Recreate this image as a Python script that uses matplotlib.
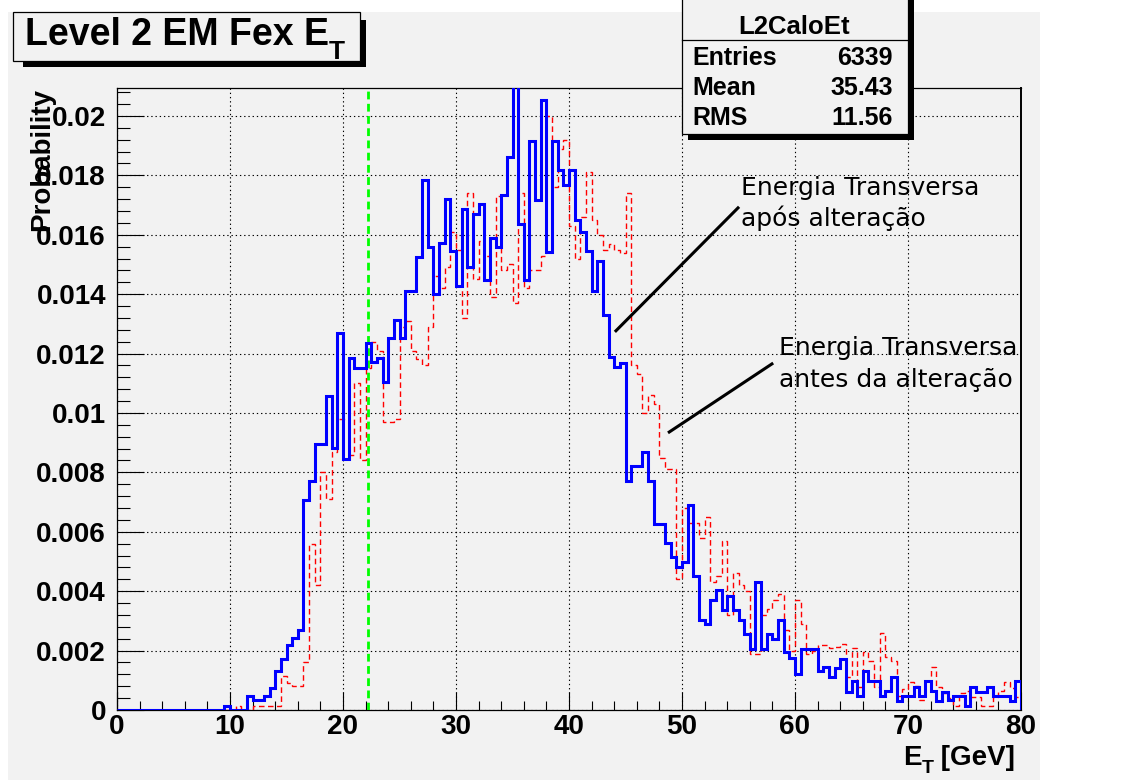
import numpy as np
import matplotlib
matplotlib.use("Agg")
import matplotlib.pyplot as plt
from matplotlib.patches import Rectangle
from matplotlib.lines import Line2D

plt.rcParams["font.family"] = ["Liberation Sans", "DejaVu Sans"]

# histogram binning: 160 bins of 0.5 GeV
bin_edges = np.arange(0, 80.5, 0.5)

# after change (blue, solid)
after_vals = [
    0, 0, 0, 0, 0, 0, 0, 0, 0, 0,
    0, 0, 0, 0, 0, 0, 0, 0, 0, 0.00015,
    0, 0, 0, 0.00046, 0.00032, 0.00032, 0.00046, 0.00075, 0.0013, 0.00172,
    0.0022, 0.00242, 0.0027, 0.00706, 0.0077, 0.00897, 0.00897, 0.01058, 0.00883, 0.01268,
    0.00846, 0.01186, 0.01152, 0.01152, 0.01237, 0.0117, 0.01186, 0.01103, 0.01252, 0.01314,
    0.01252, 0.01411, 0.01411, 0.01524, 0.01783, 0.01559, 0.014, 0.01572, 0.0172, 0.01545,
    0.01426, 0.01687, 0.0149, 0.01671, 0.01705, 0.01446, 0.01589, 0.0156, 0.01733, 0.01862,
    0.0215, 0.01637, 0.01446, 0.01914, 0.01718, 0.02055, 0.01543, 0.01914, 0.01818, 0.01767,
    0.01818, 0.0165, 0.01608, 0.01545, 0.01412, 0.0151, 0.0133, 0.01189, 0.01155, 0.01169,
    0.0077, 0.00821, 0.00821, 0.0087, 0.00772, 0.00626, 0.00626, 0.00562, 0.00515, 0.0048,
    0.00499, 0.0069, 0.00452, 0.00304, 0.0029, 0.00369, 0.00403, 0.00337, 0.00384, 0.00338,
    0.00303, 0.00255, 0.00206, 0.00432, 0.00206, 0.00255, 0.0024, 0.00304, 0.00194, 0.00175,
    0.0012, 0.00207, 0.00207, 0.00207, 0.0013, 0.00144, 0.0011, 0.00142, 0.00172, 0.00062,
    0.00097, 0.00046, 0.0013, 0.00097, 0.00097, 0.00046, 0.00063, 0.0011, 0.00031, 0.00046,
    0.00048, 0.00076, 0.00046, 0.00097, 0.00063, 0.00031, 0.00062, 0.00034, 0.00046, 0.00046,
    0.00012, 0.00076, 0.00062, 0.00062, 0.00076, 0.00046, 0.00046, 0.00046, 0.00031, 0.00097,
]

# before change (red, dashed)
before_vals = [
    0, 0, 0, 0, 0, 0, 0, 0, 0, 0,
    0, 0, 0, 0, 0, 0, 0, 0, 0, 0,
    0, 0.00015, 0, 0, 0.00015, 0.00015, 0.00015, 0.00015, 0.00015, 0.00114,
    0.0009, 0.0008, 0.0008, 0.0016, 0.0056, 0.0042, 0.0080, 0.0071, 0.0087, 0.0098,
    0.0098, 0.0086, 0.0110, 0.0084, 0.0115, 0.0124, 0.0121, 0.0097, 0.0097, 0.0098,
    0.0129, 0.0131, 0.0121, 0.0118, 0.0116, 0.0129, 0.0146, 0.0142, 0.0149, 0.0161,
    0.0155, 0.0132, 0.0174, 0.0145, 0.0158, 0.0153, 0.0139, 0.0173, 0.0148, 0.0150,
    0.0137, 0.0174, 0.0142, 0.0148, 0.0148, 0.0153, 0.0200, 0.0176, 0.0189, 0.0192,
    0.0163, 0.0152, 0.0166, 0.0181, 0.0165, 0.0160, 0.0155, 0.0157, 0.0155, 0.0154,
    0.0174, 0.0116, 0.0113, 0.0100, 0.0106, 0.0103, 0.0085, 0.0081, 0.0081, 0.0044,
    0.0068, 0.0063, 0.0063, 0.0058, 0.0065, 0.0043, 0.0045, 0.0057, 0.0032, 0.0046,
    0.0042, 0.0040, 0.0019, 0.0019, 0.0032, 0.0034, 0.0037, 0.0039, 0.0027, 0.0020,
    0.0037, 0.0029, 0.0019, 0.0020, 0.0022, 0.0022, 0.0021, 0.00213, 0.00222, 0.00112,
    0.00209, 0.00079, 0.00195, 0.00166, 0.00079, 0.00258, 0.00178, 0.00166, 0.00048, 0.0007,
    0.00093, 0.0008, 0.00034, 0.00097, 0.00146, 0.00076, 0.00056, 0.0004, 0.00015, 0.00056,
    0.00063, 0.00045, 0.00045, 0.00015, 0.00015, 0.00045, 0.00063, 0.00093, 0.00074, 0.00045,
]

cut_et = 22.2
y_ticks = [0, 0.002, 0.004, 0.006, 0.008, 0.01, 0.012, 0.014, 0.016, 0.018, 0.02]
y_tick_labels = ["0", "0.002", "0.004", "0.006", "0.008", "0.01", "0.012",
                 "0.014", "0.016", "0.018", "0.02"]
x_ticks = [0, 10, 20, 30, 40, 50, 60, 70, 80]

stats_name = "L2CaloEt"
stats_rows = [("Entries", "6339"), ("Mean", "35.43"), ("RMS", "11.56")]

label_after = ["Energia Transversa", "após alteração"]
label_before = ["Energia Transversa", "antes da alteração"]

BG = "#f2f2f2"
W, H = 1128, 780


def fx(x):
    return x / W


def fy(y):
    return 1 - y / H


fig = plt.figure(figsize=(W / 100, H / 100), dpi=100)
fig.patch.set_facecolor("white")
fig.patches.append(Rectangle((fx(8), 0), fx(1040) - fx(8), fy(12), transform=fig.transFigure,
                             facecolor=BG, edgecolor="none", zorder=-10))
renderer = fig.canvas.get_renderer()


def sub_text(x, y, main, sub, size, sub_size, sub_drop, tail="", zorder=10):
    # ROOT-like subscript: main text, then a lowered subscript, then optional tail
    t = fig.text(fx(x), fy(y), main, ha="left", va="baseline", fontsize=size,
                 fontweight="bold", zorder=zorder)
    x1 = t.get_window_extent(renderer).x1
    s = fig.text(x1 / W, fy(y + sub_drop), sub, ha="left", va="baseline",
                 fontsize=sub_size, fontweight="bold", zorder=zorder)
    if tail:
        x2 = s.get_window_extent(renderer).x1
        fig.text(x2 / W, fy(y), tail, ha="left", va="baseline", fontsize=size,
                 fontweight="bold", zorder=zorder)


ax = fig.add_axes([fx(117), fy(710), fx(1021) - fx(117), fy(88) - fy(710)])
ax.set_facecolor(BG)

ax.stairs(before_vals, bin_edges, color="#ff0000", lw=1.0, linestyle=(0, (4, 2.5)), zorder=3)
ax.stairs(after_vals, bin_edges, color="#0000ff", lw=2.2, zorder=4)
ax.axvline(cut_et, color="#00ff00", lw=2.0, linestyle=(0, (2.8, 1.6)), zorder=3.5)

ax.set_xlim(0, 80)
ax.set_ylim(0, 0.02094)
ax.set_xticks(x_ticks)
ax.set_xticklabels([str(v) for v in x_ticks])
ax.set_xticks(np.arange(0, 81, 2), minor=True)
ax.set_yticks(y_ticks)
ax.set_yticklabels(y_tick_labels)
ax.set_yticks(np.arange(0, 0.0209, 0.0004), minor=True)
ax.grid(True, which="major", color="black", linestyle=(0, (1.2, 2.6)), lw=0.8)

ax.tick_params(axis="x", which="major", direction="in", length=13, width=0.8, pad=3,
               labelsize=20)
ax.tick_params(axis="x", which="minor", direction="in", length=6.5, width=0.8)
ax.tick_params(axis="y", which="major", direction="in", length=19.5, width=0.8, pad=8,
               labelsize=20)
ax.tick_params(axis="y", which="minor", direction="in", length=9.5, width=0.8)
for lab in ax.get_xticklabels() + ax.get_yticklabels():
    lab.set_fontweight("bold")
for sp in ax.spines.values():
    sp.set_linewidth(0.9)
ax.spines["right"].set_linewidth(1.4)

# annotations
ax.plot([44.06, 55.05], [0.01273, 0.01694], color="black", lw=2.2, solid_capstyle="butt",
        zorder=6)
ax.plot([48.76, 58.07], [0.00933, 0.01168], color="black", lw=2.2, solid_capstyle="butt",
        zorder=6)
for (xt, yt), txt in zip([(55.2, 0.01758), (55.2, 0.01657), (58.6, 0.01219), (58.6, 0.01111)],
                         label_after + label_before):
    ax.text(xt, yt, txt, fontsize=18, family="DejaVu Sans", va="center", zorder=7)

# axis titles
fig.text(fx(42), fy(88), "Probability", rotation=90, ha="center", va="top",
         fontsize=20, fontweight="bold")
sub_text(903, 765, "E", "T", 20, 14, 8, tail=" [GeV]")

# title box with shadow
fig.patches.append(Rectangle((fx(23), fy(67)), fx(366) - fx(23), fy(20) - fy(67),
                             transform=fig.transFigure, facecolor="black",
                             edgecolor="none", zorder=8))
fig.patches.append(Rectangle((fx(13), fy(61)), fx(360) - fx(13), fy(12) - fy(61),
                             transform=fig.transFigure, facecolor=BG,
                             edgecolor="black", lw=0.9, zorder=9))
sub_text(25, 45, "Level 2 EM Fex E", "T", 27, 19, 14)

# stats box with shadow
fig.patches.append(Rectangle((fx(688), fy(140)), fx(914) - fx(688), fy(-5) - fy(140),
                             transform=fig.transFigure, facecolor="black",
                             edgecolor="none", zorder=8))
fig.patches.append(Rectangle((fx(682), fy(134)), fx(908) - fx(682), fy(-10) - fy(134),
                             transform=fig.transFigure, facecolor=BG,
                             edgecolor="black", lw=0.9, zorder=9))
fig.lines.append(Line2D([fx(682), fx(908)], [fy(40), fy(40)], transform=fig.transFigure,
                        color="black", lw=0.9, zorder=10))
fig.text(fx(794), fy(27), stats_name, ha="center", va="center", fontsize=18.5,
         fontweight="bold", zorder=11)
for i, (name, val) in enumerate(stats_rows):
    yy = 58 + 30 * i
    fig.text(fx(692), fy(yy), name, ha="left", va="center", fontsize=18,
             fontweight="bold", zorder=11)
    fig.text(fx(893), fy(yy), val, ha="right", va="center", fontsize=18,
             fontweight="bold", zorder=11)

fig.savefig("out.png", dpi=100, facecolor=fig.get_facecolor())
